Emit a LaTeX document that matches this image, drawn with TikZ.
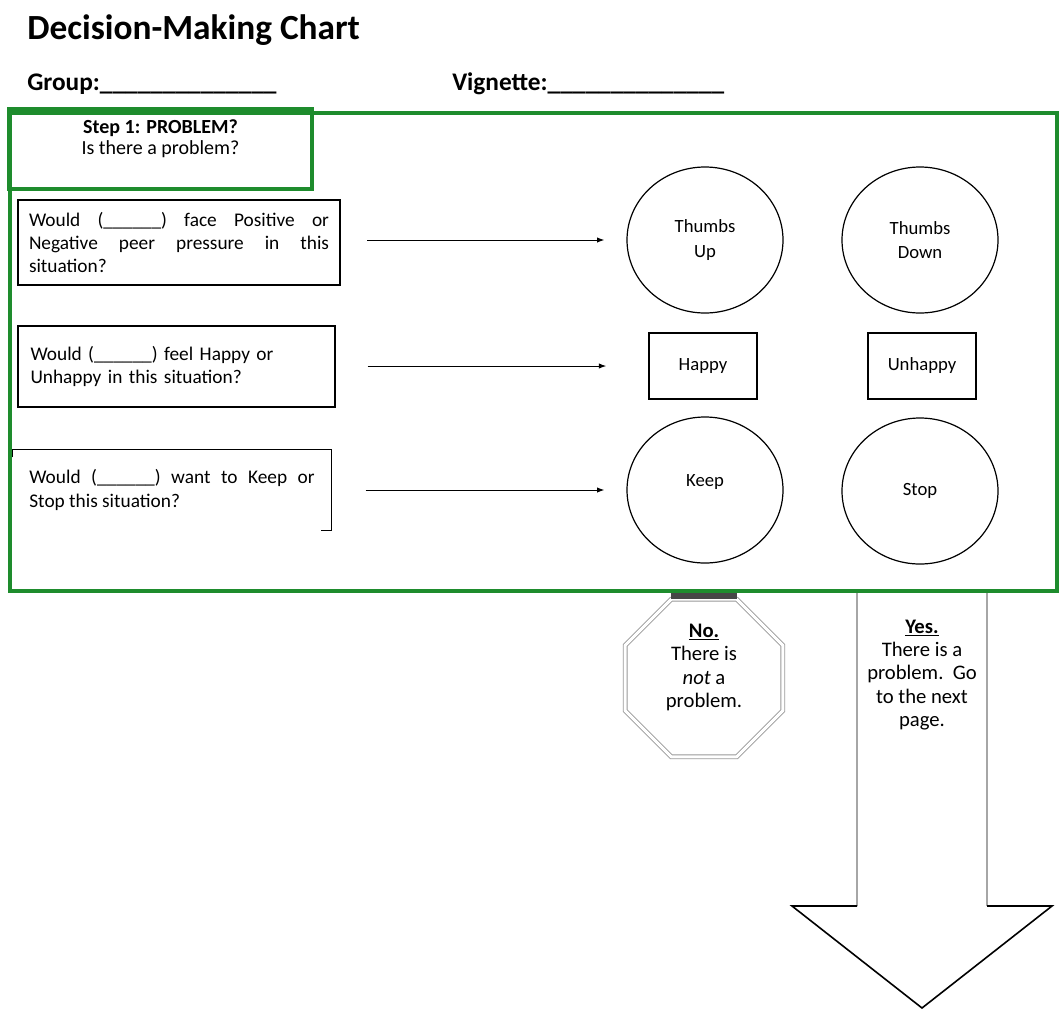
\documentclass[tikz,border=0pt]{standalone}
\usepackage{fontspec}
\setmainfont{Carlito}
\usetikzlibrary{shapes.geometric,arrows.meta}
\definecolor{framegreen}{RGB}{30,140,45}
\begin{document}
\begin{tikzpicture}[x=0.75pt,y=-0.75pt,
  qbox/.style={rectangle,inner sep=0pt,line width=1.1pt,font=\fontsize{14.5}{17.5}\selectfont},
  choice/.style={ellipse,draw,line width=0.9pt,inner sep=0pt,minimum width=117pt,minimum height=109.5pt,align=center,font=\fontsize{14}{18.5}\selectfont},
  feel/.style={rectangle,draw,line width=1.1pt,inner sep=0pt,minimum width=81pt,minimum height=49.5pt,font=\fontsize{14}{17}\selectfont},
  arr/.style={line width=0.75pt,-{Latex[length=5.5pt,width=4pt]}},
  answer/.style={align=center,font=\fontsize{15.5}{17.5}\selectfont}]
\useasboundingbox (0,0) rectangle (1060,1008);
\fill[white] (0,0) rectangle (1060,1008);

% header
\node[anchor=base west,inner sep=0pt,font=\bfseries\fontsize{26.5}{30}\selectfont] (title) at (27,39) {Decision-Making Chart};
\node[anchor=base west,inner sep=0pt,font=\bfseries\fontsize{19}{20}\selectfont] (group) at (27,90) {Group:\_\_\_\_\_\_\_\_\_\_\_\_\_\_};
\node[anchor=base west,inner sep=0pt,font=\bfseries\fontsize{19}{20}\selectfont] (vignette) at (452,90) {Vignette:\_\_\_\_\_\_\_\_\_\_\_\_\_\_};

% octagon (behind frame)
\node[regular polygon,regular polygon sides=8,minimum size=128pt,inner sep=0pt,
      draw=gray!80,double=white,double distance=2.2pt,line width=0.7pt,
      label={[answer,yshift=8pt]center:\underline{\textbf{No.}}\\There is\\\textit{not} a\\problem.}] (oct) at (704,678) {};
\draw[line width=4pt,gray!55!black] ([xshift=-25pt,yshift=2pt]oct.north) -- ([xshift=25pt,yshift=2pt]oct.north);

% outer frame and step box
\node[draw=framegreen,line width=3pt,inner sep=0pt,minimum width=785.25pt,minimum height=358.5pt] (frame) at (533.5,352) {};
\node[draw=framegreen,line width=3pt,inner sep=0pt,minimum width=227.25pt,minimum height=60pt,
      label={[align=center,yshift=7.5pt,font=\fontsize{15}{16}\selectfont]center:\textbf{Step 1: PROBLEM?}\\Is there a problem?}] (step) at (160.5,149) {};

% question boxes
\node[qbox,draw,minimum width=241.5pt,minimum height=63.75pt,text width=225pt,align=justify] (b1) at (179,242.5)
  {Would (\_\_\_\_\_\_) face Positive or\linebreak Negative peer pressure in this\linebreak situation?};
\node[qbox,draw,minimum width=237.75pt,minimum height=60.75pt,text width=219pt,align=left] (b2) at (176.5,366.5)
  {Would (\_\_\_\_\_\_) feel Happy or\\Unhappy in this situation?};
\node[qbox,minimum width=238.5pt,minimum height=60pt,text width=214pt,align=justify] (b3) at (172,490)
  {Would (\_\_\_\_\_\_) want to Keep or\linebreak Stop this situation?};
\draw[line width=1.1pt] ([yshift=-6pt]b3.north west) -- (b3.north west) -- (b3.north east) -- (b3.south east) -- ([xshift=-8pt]b3.south east);

% answer shapes
\node[choice] (tu) at (705,240) {Thumbs\\Up};
\node[choice] (td) at (920,240) {Thumbs\\Down};
\node[feel] (happy) at (703,366) {Happy};
\node[feel] (unhappy) at (922,366) {Unhappy};
\node[choice] (keep) at (705,490) {Keep\\[-4pt]};
\node[choice] (stop) at (920,491) {Stop};

% arrows
\draw[arr,shorten <=20pt,shorten >=16.5pt] (b1.east |- tu.west) -- (tu.west);
\draw[arr,shorten <=24pt,shorten >=31.5pt] (b2.east |- happy.west) -- (happy.west);
\draw[arr,shorten <=25.5pt,shorten >=16.5pt] (b3.east |- keep.west) -- (keep.west);

% big down arrow
\draw[line width=1.3pt,gray!70] (857,593) -- (857,906);
\draw[line width=1.3pt,gray!70] (987,593) -- (987,906);
\draw[line width=1.2pt,line join=miter] (857,906) -- (792,906) -- (922,1008) -- (1052,906) -- (987,906);
\node[answer] (yes) at (922,675) {\underline{\textbf{Yes.}}\\There is a\\problem.~~Go\\to the next\\page.};
\end{tikzpicture}
\end{document}
